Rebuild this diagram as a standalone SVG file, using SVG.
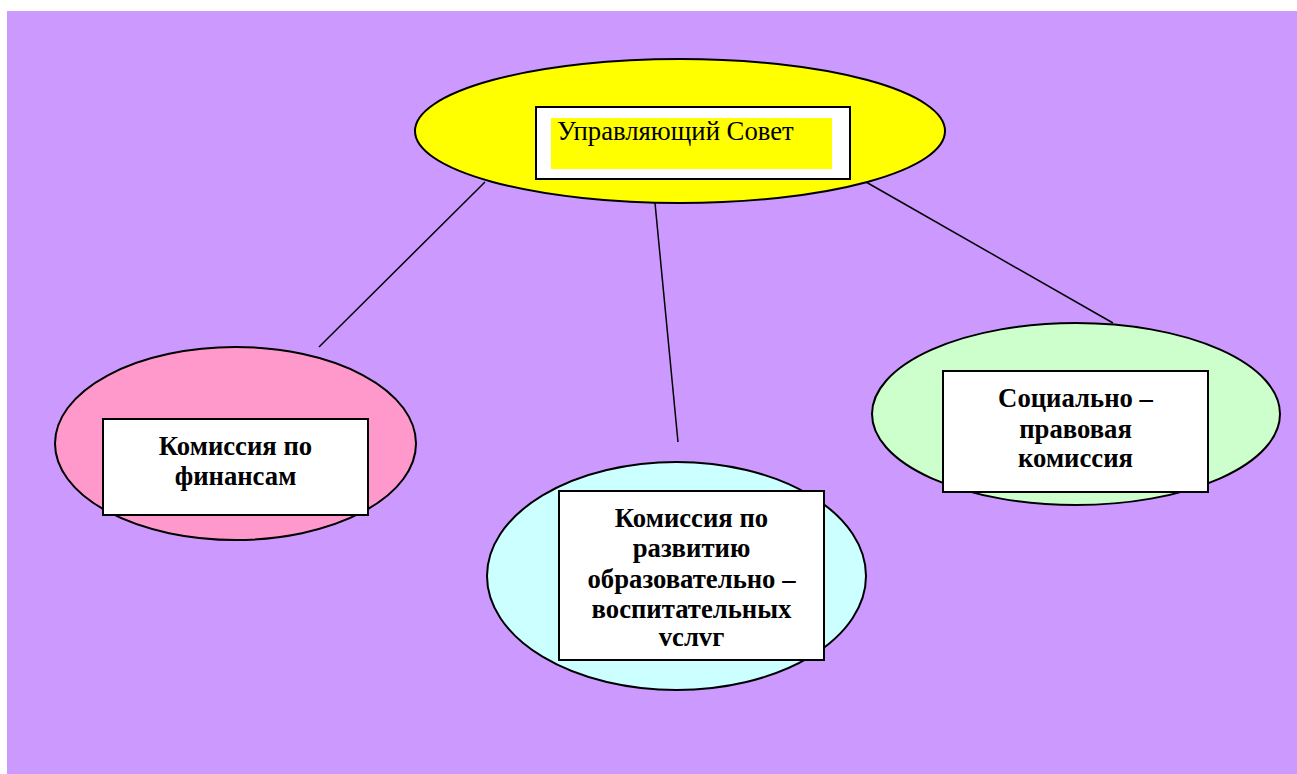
<svg xmlns="http://www.w3.org/2000/svg" width="1297" height="774" viewBox="0 0 1297 774">
  <style>
    .ell { stroke: #000; stroke-width: 2; }
    .box { fill: #fff; stroke: #000; stroke-width: 2; }
    .lbl { font-family: "Liberation Serif", "Times New Roman", serif; font-size: 26.7px; font-weight: bold; fill: #000; text-anchor: middle; }
    .ttl { font-family: "Liberation Serif", "Times New Roman", serif; font-size: 26.7px; fill: #000; }
    .conn { stroke: #000; stroke-width: 1.5; fill: none; }
  </style>
  <rect x="7" y="11" width="1290" height="763" fill="#cc99ff"/>
  <g id="connectors">
    <line class="conn" x1="485" y1="182" x2="319" y2="347"/>
    <line class="conn" x1="655" y1="203" x2="678" y2="442"/>
    <line class="conn" x1="866" y1="182" x2="1113" y2="323"/>
  </g>
  <g id="node-council">
    <ellipse class="ell" cx="680" cy="131" rx="265" ry="72" fill="#ffff00"/>
    <rect class="box" x="536" y="107" width="314" height="72"/>
    <rect x="551" y="118" width="281" height="51" fill="#ffff00"/>
    <text class="ttl" x="557" y="140">Управляющий Совет</text>
  </g>
  <g id="node-finance">
    <ellipse class="ell" cx="235.5" cy="443.5" rx="180.5" ry="96.5" fill="#ff99cc"/>
    <rect class="box" x="103" y="419" width="265" height="96"/>
    <text class="lbl" x="235.5" y="455">Комиссия по</text>
    <text class="lbl" x="235.5" y="485">финансам</text>
  </g>
  <g id="node-education">
    <ellipse class="ell" cx="676.5" cy="576" rx="189.5" ry="114" fill="#ccffff"/>
    <rect class="box" x="559" y="491" width="265" height="169"/>
    <text class="lbl" x="691.5" y="527">Комиссия по</text>
    <text class="lbl" x="691.5" y="557">развитию</text>
    <text class="lbl" x="691.5" y="588">образовательно –</text>
    <text class="lbl" x="691.5" y="618">воспитательных</text>
    <text class="lbl" x="691.5" y="646">vслvг</text>
  </g>
  <g id="node-social">
    <ellipse class="ell" cx="1076" cy="414" rx="204" ry="91" fill="#ccffcc"/>
    <rect class="box" x="943" y="371" width="265" height="121"/>
    <text class="lbl" x="1075.5" y="407">Социально –</text>
    <text class="lbl" x="1075.5" y="438">правовая</text>
    <text class="lbl" x="1075.5" y="467">комиссия</text>
  </g>
</svg>
